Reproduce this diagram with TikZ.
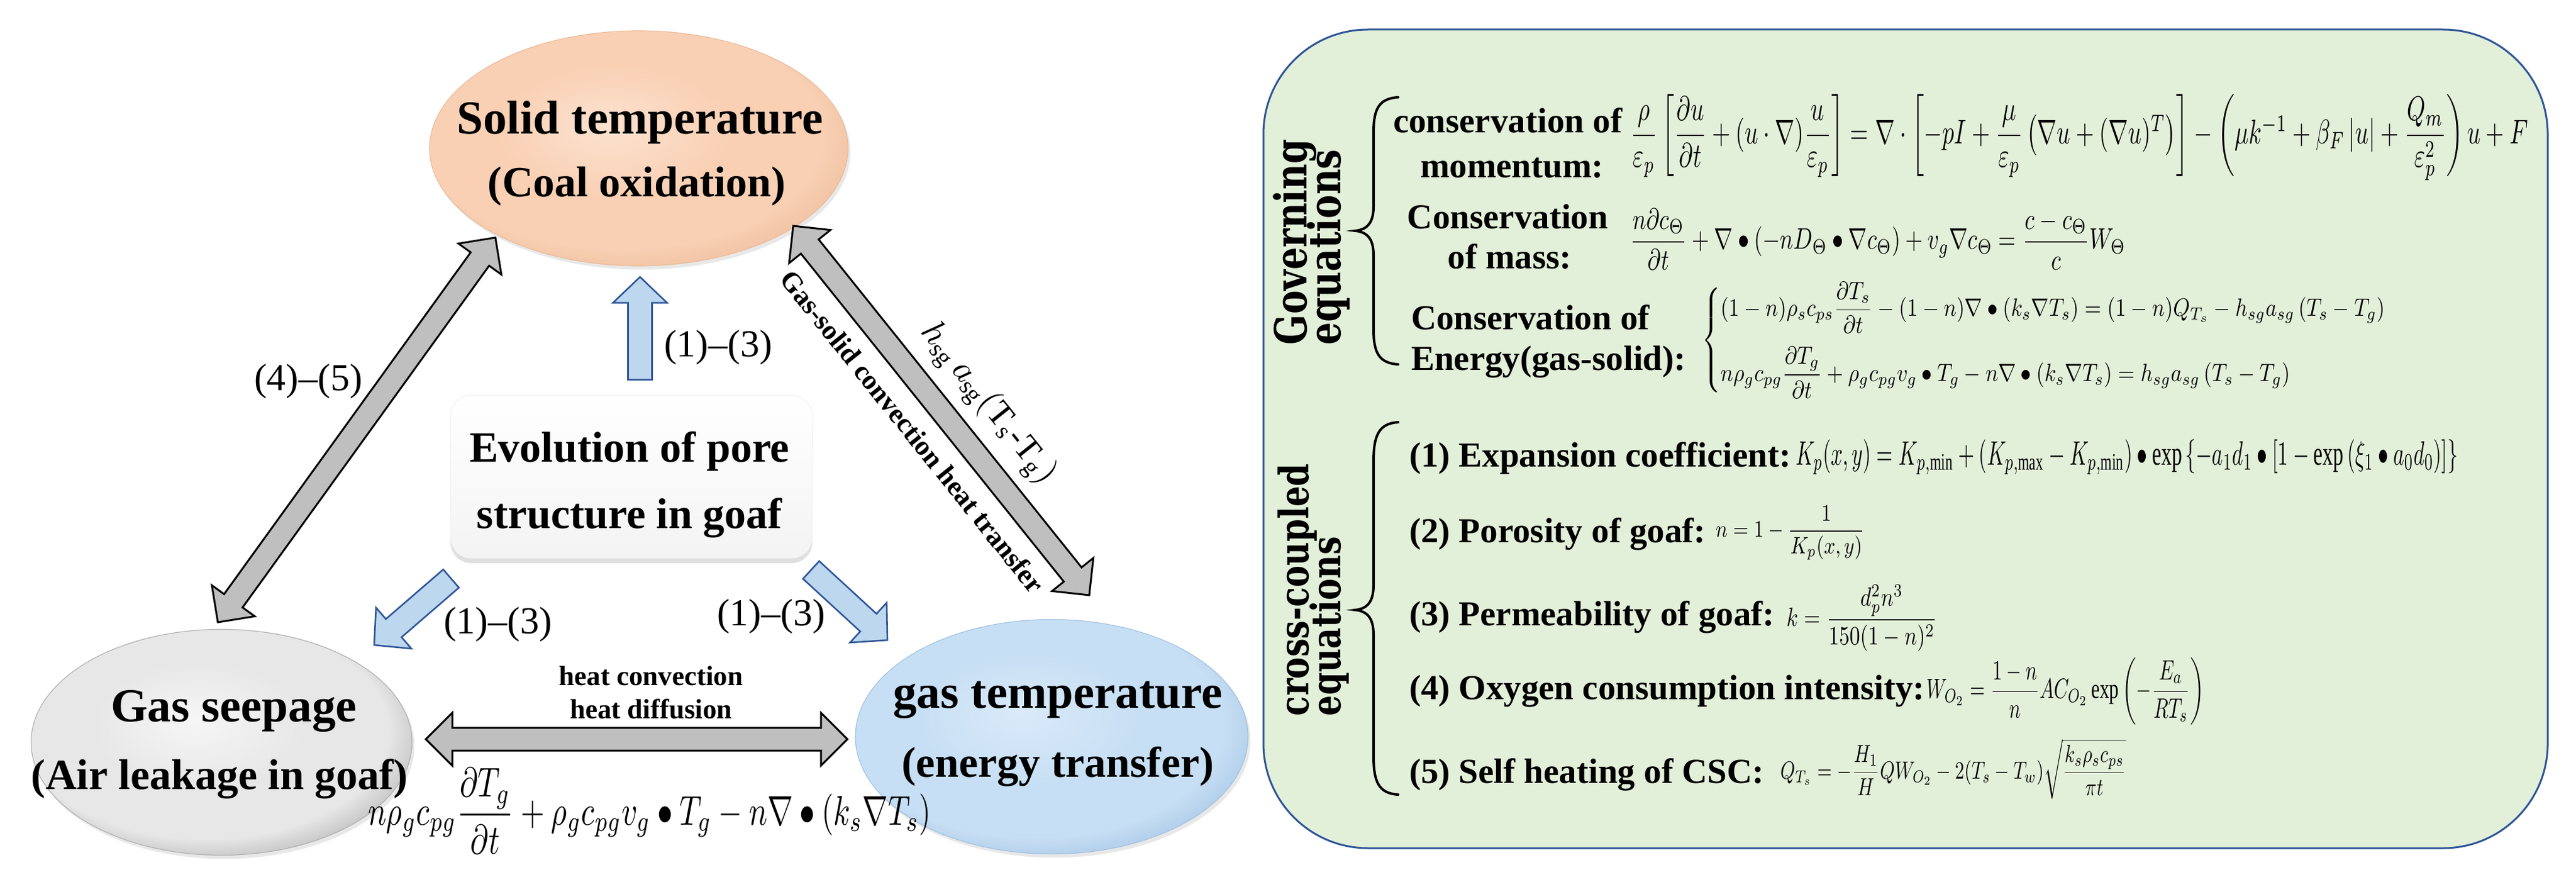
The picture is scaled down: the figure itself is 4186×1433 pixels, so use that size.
\documentclass[tikz,border=0pt]{standalone}
\usepackage{amsmath}
\usepackage{graphicx}
\usepackage{fontspec}
\setmainfont{Liberation Serif}
\newfontfamily\headfont{DejaVu Serif}[FakeStretch=0.8]
\usetikzlibrary{shapes.geometric,calc,shadows}

\definecolor{pchA}{HTML}{FCE2D0}
\definecolor{pchB}{HTML}{F9D0B4}
\definecolor{pchC}{HTML}{EBBB98}
\definecolor{gryA}{HTML}{F6F6F6}
\definecolor{gryB}{HTML}{E7E7E7}
\definecolor{gryC}{HTML}{B0B0B0}
\definecolor{bluA}{HTML}{DAEAF9}
\definecolor{bluB}{HTML}{C7DFF4}
\definecolor{bluC}{HTML}{A2C2E2}
\definecolor{arrowgray}{HTML}{BFBFBF}
\definecolor{arrowblue}{HTML}{BDD7EE}
\definecolor{arrowedge}{HTML}{2F5597}
\definecolor{panelfill}{HTML}{E2F0D9}
\definecolor{paneledge}{HTML}{2F5597}

\pgfdeclareradialshading{peachsh}{\pgfpoint{-4bp}{5bp}}{color(0bp)=(pchA); color(14bp)=(pchB); color(24bp)=(pchB); color(31bp)=(pchC); color(50bp)=(pchC)}
\pgfdeclareradialshading{graysh}{\pgfpoint{-4bp}{5bp}}{color(0bp)=(gryA); color(14bp)=(gryB); color(24bp)=(gryB); color(31bp)=(gryC); color(50bp)=(gryC)}
\pgfdeclareradialshading{bluesh}{\pgfpoint{-4bp}{5bp}}{color(0bp)=(bluA); color(14bp)=(bluB); color(24bp)=(bluB); color(31bp)=(bluC); color(50bp)=(bluC)}

\tikzset{
  ell/.style={ellipse, inner sep=0pt, shade, drop shadow={shadow xshift=2pt, shadow yshift=-3pt, opacity=0.18}},
  ttl/.style={font=\fontsize{38.5}{44}\selectfont\bfseries, anchor=base},
  subttl/.style={font=\fontsize{35}{40}\selectfont\bfseries, anchor=base},
  evo/.style={font=\fontsize{35}{40}\selectfont\bfseries, anchor=base},
  reflbl/.style={font=\fontsize{31}{36}\selectfont},
  smallbold/.style={font=\fontsize{22.5}{26}\selectfont\bfseries},
  govlbl/.style={font=\bfseries\fontsize{28.5}{34}\selectfont},
  crosslbl/.style={font=\bfseries\fontsize{28.5}{34}\selectfont, anchor=base west},
  headlbl/.style={font=\headfont\bfseries\fontsize{36}{40}\selectfont, rotate=90, anchor=base west},
  headlblb/.style={font=\headfont\bfseries\fontsize{33}{37}\selectfont, rotate=90, anchor=base west},
  formula/.style={anchor=north west},
  garrow/.style={fill=arrowgray, draw=black, line width=1.5pt, line join=miter},
  barrow/.style={fill=arrowblue, draw=arrowedge, line width=1.3pt, line join=miter},
  bracestyle/.style={draw=black, line width=2pt, line cap=round},
}

\newcommand\grayarrow[2]{%
  \draw[garrow] (#1)
  -- ($(#1)!21.5pt!(#2)!21.5pt!90:(#2)$)
  -- ($(#1)!21.5pt!(#2)!9.25pt!90:(#2)$)
  -- ($(#2)!21.5pt!(#1)!9.25pt!-90:(#1)$)
  -- ($(#2)!21.5pt!(#1)!21.5pt!-90:(#1)$)
  -- (#2)
  -- ($(#2)!21.5pt!(#1)!21.5pt!90:(#1)$)
  -- ($(#2)!21.5pt!(#1)!9.25pt!90:(#1)$)
  -- ($(#1)!21.5pt!(#2)!9.25pt!-90:(#2)$)
  -- ($(#1)!21.5pt!(#2)!21.5pt!-90:(#2)$)
  -- cycle;}

\newcommand\bluearrow[2]{%
  \draw[barrow] ($(#1)!9.75pt!90:(#2)$)
  -- ($(#2)!21pt!(#1)!9.75pt!-90:(#1)$)
  -- ($(#2)!21pt!(#1)!22pt!-90:(#1)$)
  -- (#2)
  -- ($(#2)!21pt!(#1)!22pt!90:(#1)$)
  -- ($(#2)!21pt!(#1)!9.75pt!90:(#1)$)
  -- ($(#1)!9.75pt!-90:(#2)$)
  -- cycle;}

\begin{document}
\begin{tikzpicture}[x=0.5pt,y=-0.5pt, every node/.append style={inner sep=0pt, outer sep=0pt}]
\useasboundingbox (0,0) rectangle (4186,1433);
\fill[white] (0,0) rectangle (4186,1433);

% ---------------- right panel ----------------
\node[anchor=north west, rectangle, rounded corners=85pt, draw=paneledge, line width=1.5pt,
      fill=panelfill, minimum width=1043.5pt, minimum height=665pt] (panel) at (2053,48) {};

% rotated headings
\node[headlbl] (gov1) at (2123,560) {Governing};
\node[headlbl] (gov2) at (2178,560) {equations};
\node[headlblb] (cro1) at (2126,1163) {cross-coupled};
\node[headlblb] (cro2) at (2178,1163) {equations};

% braces
\draw[bracestyle] (2272,158) .. controls (2240,160) and (2232,178) .. (2232,215)
  -- (2232,335) .. controls (2232,362) and (2222,373) .. (2202,375)
  .. controls (2222,377) and (2232,388) .. (2232,415)
  -- (2232,535) .. controls (2232,572) and (2240,590) .. (2272,592);
\draw[bracestyle] (2272,686) .. controls (2240,688) and (2232,708) .. (2232,750)
  -- (2232,950) .. controls (2232,978) and (2222,989) .. (2202,991)
  .. controls (2222,993) and (2232,1004) .. (2232,1032)
  -- (2232,1228) .. controls (2232,1270) and (2240,1289) .. (2272,1291);

% governing labels
\node[govlbl, anchor=base] (m1) at (2450,216) {conservation of};
\node[govlbl, anchor=base] (m2) at (2457,289) {momentum:};
\node[govlbl, anchor=base] (ma1) at (2450,372) {Conservation};
\node[govlbl, anchor=base] (ma2) at (2453,437) {of mass:};
\node[govlbl, anchor=base west] (e1) at (2293,535) {Conservation of};
\node[govlbl, anchor=base west] (e2) at (2293,601) {Energy(gas-solid):};

% governing formulas
\node[formula] (fmom) at (2649,153) {\resizebox*{729.5pt}{70pt}{$\dfrac{\rho}{\varepsilon_p}\left[\dfrac{\partial u}{\partial t}+(u\cdot\nabla)\dfrac{u}{\varepsilon_p}\right]=\nabla\cdot\left[-pI+\dfrac{\mu}{\varepsilon_p}\left(\nabla u+(\nabla u)^{T}\right)\right]-\left(\mu k^{-1}+\beta_F\left|u\right|+\dfrac{Q_m}{\varepsilon_p^{2}}\right)u+F$}};
\node[formula] (fmass) at (2649,339) {\resizebox*{402.5pt}{49.5pt}{$\dfrac{n\partial c_\Theta}{\partial t}+\nabla\bullet\left(-nD_\Theta\bullet\nabla c_\Theta\right)+v_g\nabla c_\Theta=\dfrac{c-c_\Theta}{c}W_\Theta$}};
\node[formula] (fen) at (2765,458) {\resizebox*{574.5pt}{94.5pt}{$\begin{cases}(1-n)\rho_s c_{ps}\dfrac{\partial T_s}{\partial t}-(1-n)\nabla\bullet\left(k_s\nabla T_s\right)=(1-n)Q_{T_s}-h_{sg}a_{sg}\left(T_s-T_g\right)\\[8pt] n\rho_g c_{pg}\dfrac{\partial T_g}{\partial t}+\rho_g c_{pg}v_g\bullet T_g-n\nabla\bullet\left(k_s\nabla T_s\right)=h_{sg}a_{sg}\left(T_s-T_g\right)\end{cases}$}};

% cross-coupled labels
\node[crosslbl] (c1) at (2290,758) {(1) Expansion coefficient:};
\node[crosslbl] (c2) at (2290,881) {(2) Porosity of goaf:};
\node[crosslbl] (c3) at (2290,1016) {(3) Permeability of goaf:};
\node[crosslbl] (c4) at (2290,1136) {(4) Oxygen consumption intensity:};
\node[crosslbl] (c5) at (2290,1272) {(5) Self heating of CSC:};

% cross-coupled formulas
\node[formula] (f1) at (2918,714) {\resizebox*{538pt}{28.5pt}{$K_p(x,y)=K_{p,\min}+\left(K_{p,\max}-K_{p,\min}\right)\bullet\exp\left\{-a_1d_1\bullet\left[1-\exp\left(\xi_1\bullet a_0d_0\right)\right]\right\}$}};
\node[formula] (f2) at (2788,822) {\resizebox*{121pt}{44pt}{$n=1-\dfrac{1}{K_p(x,y)}$}};
\node[formula] (f3) at (2903,950) {\resizebox*{122.5pt}{54pt}{$k=\dfrac{d_p^2n^3}{150(1-n)^2}$}};
\node[formula] (f4) at (3130,1069) {\resizebox*{226pt}{54.5pt}{$W_{O_2}=\dfrac{1-n}{n}AC_{O_2}\exp\left(-\dfrac{E_a}{RT_s}\right)$}};
\node[formula] (f5) at (2893,1200) {\resizebox*{281pt}{49pt}{$Q_{T_s}=-\dfrac{H_1}{H}QW_{O_2}-2(T_s-T_w)\sqrt{\dfrac{k_s\rho_s c_{ps}}{\pi t}}$}};

% ---------------- left diagram ----------------
\node[ell, shading=peachsh, draw=pchC, line width=0.6pt, minimum width=340pt, minimum height=191pt] (solid) at (1038,241) {};
\node[ell, shading=graysh, draw=gryC, line width=0.6pt, minimum width=309.5pt, minimum height=183.5pt] (seep) at (360,1206) {};
\node[ell, shading=bluesh, draw=bluC, line width=0.6pt, minimum width=319pt, minimum height=190.5pt] (gast) at (1709,1197) {};

\node[rectangle, rounded corners=17pt, top color=white, bottom color=gray!9, draw=gray!12, line width=0.5pt,
      drop shadow={shadow xshift=0pt, shadow yshift=-4pt, opacity=0.25},
      minimum width=294pt, minimum height=132.5pt] (pore) at (1026,774.5) {};

% node texts
\node[ttl] (solidT) at (1040,218) {Solid temperature};
\node[subttl] (solidS) at (1035,320) {(Coal oxidation)};
\node[ttl] (seepT) at (380,1172) {Gas seepage};
\node[subttl] (seepS) at (357,1282) {(Air leakage in goaf)};
\node[ttl] (gastT) at (1719,1150) {gas temperature};
\node[subttl] (gastS) at (1719,1262) {(energy transfer)};
\node[evo] (poreT1) at (1023,750) {Evolution of pore};
\node[evo] (poreT2) at (1023,858) {structure in goaf};

% arrow end coordinates
\coordinate (gl1) at (354,1011);
\coordinate (gl2) at (805,386);
\coordinate (gr1) at (1289,367);
\coordinate (gr2) at (1770,967);
\coordinate (gh1) at (692,1201);
\coordinate (gh2) at (1377,1201);
\coordinate (bu1) at (1040,617);
\coordinate (bu2) at (1040,450);
\coordinate (bl1) at (733,940);
\coordinate (bl2) at (608,1048);
\coordinate (br1) at (1318,926);
\coordinate (br2) at (1442,1040);

\grayarrow{gl1}{gl2}
\grayarrow{gr1}{gr2}
\grayarrow{gh1}{gh2}
\bluearrow{bu1}{bu2}
\bluearrow{bl1}{bl2}
\bluearrow{br1}{br2}

% labels
\node[reflbl] (l13a) at (1167,565) {(1)–(3)};
\node[reflbl] (l45) at (501,620) {(4)–(5)};
\node[reflbl] (l13b) at (809,1015) {(1)–(3)};
\node[reflbl] (l13c) at (1253,1002) {(1)–(3)};
\node[smallbold, anchor=base] (hc) at (1058,1113) {heat convection};
\node[smallbold, anchor=base] (hd) at (1058,1167) {heat diffusion};
\node[smallbold, rotate=-51.3] (gsc) at (1483,701) {Gas-solid convection heat transfer};
\node[rotate=-51.3] (hsg) at (1605,656) {\resizebox{160pt}{!}{$h_{\mathrm{sg}}\,a_{\mathrm{sg}}(\mathrm{T}_{\mathrm{s}}\text{-}\mathrm{T}_{\mathrm{g}})$}};
\node[formula] (fbot) at (598,1248) {\resizebox*{457.5pt}{69.5pt}{$n\rho_g c_{pg}\dfrac{\partial T_g}{\partial t}+\rho_g c_{pg}v_g\bullet T_g-n\nabla\bullet\left(k_s\nabla T_s\right)$}};
\end{tikzpicture}
\end{document}
